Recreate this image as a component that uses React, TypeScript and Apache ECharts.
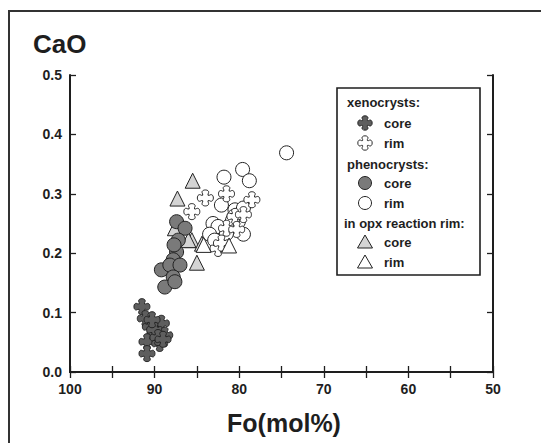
import React, { useEffect, useRef } from "react";
import * as echarts from "echarts";

// ---- data (Fo mol%, CaO wt%) ----
const xenoCore: [number, number][] = [
  [91.5, 0.11], [91.1, 0.09], [90.5, 0.076], [89.2, 0.082], [90.0, 0.071], [88.8, 0.062],
  [90.9, 0.051], [89.4, 0.048], [90.9, 0.031], [89.6, 0.058], [90.3, 0.088], [89.0, 0.055],
];
const xenoRim: [number, number][] = [
  [84.0, 0.293], [85.6, 0.27], [81.5, 0.3], [78.5, 0.29], [80.5, 0.262], [81.5, 0.242],
  [82.5, 0.208], [79.5, 0.265], [82.1, 0.217], [80.3, 0.24],
];
const phenoCore: [number, number][] = [
  [87.4, 0.253], [86.4, 0.242], [87.2, 0.222], [87.4, 0.202], [87.8, 0.189], [89.2, 0.172],
  [88.2, 0.18], [87.0, 0.18], [87.8, 0.16], [88.8, 0.143], [87.6, 0.152], [87.7, 0.214],
];
const phenoRim: [number, number][] = [
  [74.4, 0.369], [79.6, 0.341], [81.8, 0.328], [78.8, 0.322], [82.1, 0.281], [80.5, 0.273],
  [80.6, 0.262], [79.5, 0.276], [83.1, 0.25], [82.5, 0.245], [83.5, 0.232], [81.5, 0.233],
  [79.5, 0.232], [82.9, 0.222], [80.1, 0.253], [81.0, 0.248], [80.8, 0.255],
];
const opxCore: [number, number][] = [
  [85.5, 0.322], [87.3, 0.292], [87.6, 0.242], [85.6, 0.222], [84.4, 0.216], [85.0, 0.184],
  [86.0, 0.222],
];
const opxRim: [number, number][] = [
  [81.2, 0.213], [84.2, 0.214],
];

const xTicks = [100, 90, 80, 70, 60, 50];
const yTicks = [0.0, 0.1, 0.2, 0.3, 0.4, 0.5];

const CROSS_D =
  "M 7 5.5 C 3 -0.5 17 -0.5 13 5.5 Q 12.3 7.7 14.5 7 C 20.5 3 20.5 17 14.5 13 Q 12.3 12.3 13 14.5 C 17 20.5 3 20.5 7 14.5 Q 7.7 12.3 5.5 13 C -0.5 17 -0.5 3 5.5 7 Q 7.7 7.7 7 5.5 Z";

let registered = false;

export default function App() {
  const ref = useRef<HTMLDivElement>(null);
  useEffect(() => {
    if (!ref.current) return;
    if (!registered) {
      echarts.graphic.registerShape("xcross", echarts.graphic.extendPath(CROSS_D, {}) as any);
      registered = true;
    }
    const chart = echarts.init(ref.current, undefined, { renderer: "svg" });
    const font = "Liberation Sans, Arial, sans-serif";
    const ink = "#1e1e1e";
    const stroke = "#222";
    const crossSym = "path://" + CROSS_D;
    const tickStyle = { show: true, inside: true, length: 6, lineStyle: { color: ink, width: 1.3 } };
    const lineStyle = { show: true, lineStyle: { color: ink, width: 2 } };

    const mk = (name: string, data: [number, number][], symbol: string, size: number, fill: string) => ({
      name,
      type: "scatter",
      data,
      symbol,
      symbolSize: size,
      itemStyle: { color: fill, borderColor: stroke, borderWidth: 1, opacity: 1 },
      xAxisIndex: 0,
      yAxisIndex: 0,
    });

    const legX = 337, legY = 88;
    const symX = 365, txtX = 384;
    const lt = (text: string, x: number, y: number) => ({
      type: "text",
      x,
      y,
      style: { text, font: `bold 13px ${font}`, fill: ink, verticalAlign: "middle", align: "left" },
      z: 101,
    });

    chart.setOption({
      animation: false,
      backgroundColor: "#fff",
      grid: { left: 70, top: 75, width: 423, height: 297 },
      xAxis: [
        {
          type: "value",
          position: "bottom",
          min: 50,
          max: 100,
          interval: 5,
          inverse: true,
          axisLine: lineStyle,
          axisTick: tickStyle,
          splitLine: { show: false },
          axisLabel: {
            margin: 10,
            color: ink,
            fontFamily: font,
            fontWeight: "bold",
            fontSize: 14,
            formatter: (v: number) => (xTicks.indexOf(v) >= 0 ? String(v) : ""),
          },
        },
        {
          type: "value",
          position: "top",
          min: 50,
          max: 100,
          interval: 5,
          inverse: true,
          axisLine: lineStyle,
          axisTick: tickStyle,
          splitLine: { show: false },
          axisLabel: { show: false },
        },
      ],
      yAxis: [
        {
          type: "value",
          position: "left",
          min: 0,
          max: 0.5,
          interval: 0.1,
          axisLine: lineStyle,
          axisTick: tickStyle,
          splitLine: { show: false },
          axisLabel: {
            margin: 8,
            color: ink,
            fontFamily: font,
            fontWeight: "bold",
            fontSize: 14,
            formatter: (v: number) => {
              const t = yTicks.find((k) => Math.abs(k - v) < 1e-6);
              return t === undefined ? "" : t.toFixed(1);
            },
          },
        },
        {
          type: "value",
          position: "right",
          min: 0,
          max: 0.5,
          interval: 0.1,
          axisLine: lineStyle,
          axisTick: tickStyle,
          splitLine: { show: false },
          axisLabel: { show: false },
        },
      ],
      series: [
        mk("xenocrysts core", xenoCore, crossSym, 16, "#5e5e5e"),
        mk("opx core", opxCore, "triangle", 15, "#d4d4d4"),
        mk("phenocrysts core", phenoCore, "circle", 14, "#7a7a7a"),
        mk("phenocrysts rim", phenoRim, "circle", 14, "#ffffff"),
        mk("xenocrysts rim", xenoRim, crossSym, 16, "#ffffff"),
        mk("opx rim", opxRim, "triangle", 15, "#ffffff"),
      ],
      graphic: [
        {
          type: "polyline",
          shape: { points: [[9, 443], [9, 11], [541, 11]] },
          style: { stroke: "#333", lineWidth: 2, fill: null },
          z: 100,
        },
        {
          type: "text",
          x: 33,
          y: 44,
          style: { text: "CaO", font: `bold 26px ${font}`, fill: ink, verticalAlign: "middle" },
          z: 100,
        },
        {
          type: "text",
          x: 284,
          y: 423,
          style: { text: "Fo(mol%)", font: `bold 25px ${font}`, fill: ink, verticalAlign: "middle", align: "center" },
          z: 100,
        },
        {
          type: "rect",
          shape: { x: legX, y: legY, width: 143, height: 187 },
          style: { fill: "#fff", stroke: ink, lineWidth: 1.6 },
          z: 100,
        },
        lt("xenocrysts:", 347, 102),
        {
          type: "xcross",
          x: symX - 8,
          y: 123 - 8,
          scaleX: 0.8,
          scaleY: 0.8,
          style: { fill: "#5e5e5e", stroke: stroke, lineWidth: 1.2 },
          z: 101,
        },
        lt("core", txtX, 123),
        {
          type: "xcross",
          x: symX - 8,
          y: 143 - 8,
          scaleX: 0.8,
          scaleY: 0.8,
          style: { fill: "#fff", stroke: stroke, lineWidth: 1.2 },
          z: 101,
        },
        lt("rim", txtX, 143),
        lt("phenocrysts:", 347, 164),
        {
          type: "circle",
          shape: { cx: symX, cy: 183, r: 6.5 },
          style: { fill: "#7a7a7a", stroke: stroke, lineWidth: 1 },
          z: 101,
        },
        lt("core", txtX, 183),
        {
          type: "circle",
          shape: { cx: symX, cy: 203, r: 6.5 },
          style: { fill: "#fff", stroke: stroke, lineWidth: 1 },
          z: 101,
        },
        lt("rim", txtX, 203),
        lt("in opx reaction rim:", 344, 223),
        {
          type: "polygon",
          shape: { points: [[symX, 235], [symX + 7.5, 248], [symX - 7.5, 248]] },
          style: { fill: "#d4d4d4", stroke: stroke, lineWidth: 1 },
          z: 101,
        },
        lt("core", txtX, 242),
        {
          type: "polygon",
          shape: { points: [[symX, 255], [symX + 7.5, 268], [symX - 7.5, 268]] },
          style: { fill: "#fff", stroke: stroke, lineWidth: 1 },
          z: 101,
        },
        lt("rim", txtX, 262),
      ],
    });
    return () => chart.dispose();
  }, []);
  return (
    <div
      ref={ref}
      style={{ position: "absolute", left: 0, top: 0, width: 541, height: 443, background: "#fff" }}
    />
  );
}
